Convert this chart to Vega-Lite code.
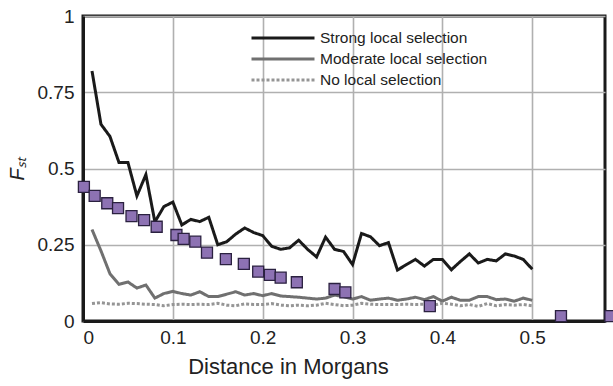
{
  "$schema": "https://vega.github.io/schema/vega-lite/v6.json",
  "width": 522,
  "height": 305,
  "autosize": {"type": "none"},
  "padding": {"left": 83, "top": 16, "right": 8, "bottom": 65},
  "background": "white",
  "config": {
    "view": {"stroke": "#1a1a1a", "strokeWidth": 3},
    "font": "Liberation Sans",
    "axis": {
      "labelFont": "Liberation Sans",
      "titleFont": "Liberation Sans",
      "labelColor": "#222",
      "titleColor": "#222",
      "gridColor": "#b0b0b0",
      "gridWidth": 1.6,
      "domainColor": "#1a1a1a",
      "domainWidth": 3,
      "ticks": false
    }
  },
  "datasets": {
    "lines": [
      {"x": 0.01, "fst": 0.82, "series": "Strong local selection"},
      {"x": 0.02, "fst": 0.645, "series": "Strong local selection"},
      {"x": 0.03, "fst": 0.605, "series": "Strong local selection"},
      {"x": 0.04, "fst": 0.52, "series": "Strong local selection"},
      {"x": 0.05, "fst": 0.52, "series": "Strong local selection"},
      {"x": 0.06, "fst": 0.41, "series": "Strong local selection"},
      {"x": 0.07, "fst": 0.48, "series": "Strong local selection"},
      {"x": 0.08, "fst": 0.325, "series": "Strong local selection"},
      {"x": 0.09, "fst": 0.375, "series": "Strong local selection"},
      {"x": 0.10, "fst": 0.39, "series": "Strong local selection"},
      {"x": 0.11, "fst": 0.315, "series": "Strong local selection"},
      {"x": 0.12, "fst": 0.333, "series": "Strong local selection"},
      {"x": 0.13, "fst": 0.326, "series": "Strong local selection"},
      {"x": 0.14, "fst": 0.34, "series": "Strong local selection"},
      {"x": 0.15, "fst": 0.25, "series": "Strong local selection"},
      {"x": 0.16, "fst": 0.26, "series": "Strong local selection"},
      {"x": 0.17, "fst": 0.285, "series": "Strong local selection"},
      {"x": 0.18, "fst": 0.305, "series": "Strong local selection"},
      {"x": 0.19, "fst": 0.29, "series": "Strong local selection"},
      {"x": 0.20, "fst": 0.28, "series": "Strong local selection"},
      {"x": 0.21, "fst": 0.245, "series": "Strong local selection"},
      {"x": 0.22, "fst": 0.235, "series": "Strong local selection"},
      {"x": 0.23, "fst": 0.24, "series": "Strong local selection"},
      {"x": 0.24, "fst": 0.265, "series": "Strong local selection"},
      {"x": 0.25, "fst": 0.235, "series": "Strong local selection"},
      {"x": 0.26, "fst": 0.21, "series": "Strong local selection"},
      {"x": 0.27, "fst": 0.275, "series": "Strong local selection"},
      {"x": 0.28, "fst": 0.235, "series": "Strong local selection"},
      {"x": 0.29, "fst": 0.228, "series": "Strong local selection"},
      {"x": 0.30, "fst": 0.185, "series": "Strong local selection"},
      {"x": 0.31, "fst": 0.287, "series": "Strong local selection"},
      {"x": 0.32, "fst": 0.276, "series": "Strong local selection"},
      {"x": 0.33, "fst": 0.247, "series": "Strong local selection"},
      {"x": 0.34, "fst": 0.257, "series": "Strong local selection"},
      {"x": 0.35, "fst": 0.167, "series": "Strong local selection"},
      {"x": 0.36, "fst": 0.185, "series": "Strong local selection"},
      {"x": 0.37, "fst": 0.202, "series": "Strong local selection"},
      {"x": 0.38, "fst": 0.18, "series": "Strong local selection"},
      {"x": 0.39, "fst": 0.202, "series": "Strong local selection"},
      {"x": 0.40, "fst": 0.202, "series": "Strong local selection"},
      {"x": 0.41, "fst": 0.168, "series": "Strong local selection"},
      {"x": 0.42, "fst": 0.195, "series": "Strong local selection"},
      {"x": 0.43, "fst": 0.22, "series": "Strong local selection"},
      {"x": 0.44, "fst": 0.19, "series": "Strong local selection"},
      {"x": 0.45, "fst": 0.202, "series": "Strong local selection"},
      {"x": 0.46, "fst": 0.197, "series": "Strong local selection"},
      {"x": 0.47, "fst": 0.22, "series": "Strong local selection"},
      {"x": 0.48, "fst": 0.213, "series": "Strong local selection"},
      {"x": 0.49, "fst": 0.202, "series": "Strong local selection"},
      {"x": 0.50, "fst": 0.17, "series": "Strong local selection"},
      {"x": 0.01, "fst": 0.30, "series": "Moderate local selection"},
      {"x": 0.02, "fst": 0.23, "series": "Moderate local selection"},
      {"x": 0.03, "fst": 0.155, "series": "Moderate local selection"},
      {"x": 0.04, "fst": 0.12, "series": "Moderate local selection"},
      {"x": 0.05, "fst": 0.128, "series": "Moderate local selection"},
      {"x": 0.06, "fst": 0.108, "series": "Moderate local selection"},
      {"x": 0.07, "fst": 0.118, "series": "Moderate local selection"},
      {"x": 0.08, "fst": 0.075, "series": "Moderate local selection"},
      {"x": 0.09, "fst": 0.09, "series": "Moderate local selection"},
      {"x": 0.10, "fst": 0.097, "series": "Moderate local selection"},
      {"x": 0.11, "fst": 0.09, "series": "Moderate local selection"},
      {"x": 0.12, "fst": 0.085, "series": "Moderate local selection"},
      {"x": 0.13, "fst": 0.096, "series": "Moderate local selection"},
      {"x": 0.14, "fst": 0.08, "series": "Moderate local selection"},
      {"x": 0.15, "fst": 0.08, "series": "Moderate local selection"},
      {"x": 0.16, "fst": 0.088, "series": "Moderate local selection"},
      {"x": 0.17, "fst": 0.096, "series": "Moderate local selection"},
      {"x": 0.18, "fst": 0.085, "series": "Moderate local selection"},
      {"x": 0.19, "fst": 0.09, "series": "Moderate local selection"},
      {"x": 0.20, "fst": 0.083, "series": "Moderate local selection"},
      {"x": 0.21, "fst": 0.09, "series": "Moderate local selection"},
      {"x": 0.22, "fst": 0.082, "series": "Moderate local selection"},
      {"x": 0.23, "fst": 0.08, "series": "Moderate local selection"},
      {"x": 0.24, "fst": 0.078, "series": "Moderate local selection"},
      {"x": 0.25, "fst": 0.075, "series": "Moderate local selection"},
      {"x": 0.26, "fst": 0.072, "series": "Moderate local selection"},
      {"x": 0.27, "fst": 0.075, "series": "Moderate local selection"},
      {"x": 0.28, "fst": 0.085, "series": "Moderate local selection"},
      {"x": 0.29, "fst": 0.08, "series": "Moderate local selection"},
      {"x": 0.30, "fst": 0.072, "series": "Moderate local selection"},
      {"x": 0.31, "fst": 0.08, "series": "Moderate local selection"},
      {"x": 0.32, "fst": 0.068, "series": "Moderate local selection"},
      {"x": 0.33, "fst": 0.072, "series": "Moderate local selection"},
      {"x": 0.34, "fst": 0.075, "series": "Moderate local selection"},
      {"x": 0.35, "fst": 0.068, "series": "Moderate local selection"},
      {"x": 0.36, "fst": 0.072, "series": "Moderate local selection"},
      {"x": 0.37, "fst": 0.078, "series": "Moderate local selection"},
      {"x": 0.38, "fst": 0.07, "series": "Moderate local selection"},
      {"x": 0.39, "fst": 0.08, "series": "Moderate local selection"},
      {"x": 0.40, "fst": 0.065, "series": "Moderate local selection"},
      {"x": 0.41, "fst": 0.078, "series": "Moderate local selection"},
      {"x": 0.42, "fst": 0.068, "series": "Moderate local selection"},
      {"x": 0.43, "fst": 0.068, "series": "Moderate local selection"},
      {"x": 0.44, "fst": 0.08, "series": "Moderate local selection"},
      {"x": 0.45, "fst": 0.08, "series": "Moderate local selection"},
      {"x": 0.46, "fst": 0.07, "series": "Moderate local selection"},
      {"x": 0.47, "fst": 0.072, "series": "Moderate local selection"},
      {"x": 0.48, "fst": 0.065, "series": "Moderate local selection"},
      {"x": 0.49, "fst": 0.075, "series": "Moderate local selection"},
      {"x": 0.50, "fst": 0.068, "series": "Moderate local selection"},
      {"x": 0.01, "fst": 0.057, "series": "No local selection"},
      {"x": 0.02, "fst": 0.06, "series": "No local selection"},
      {"x": 0.03, "fst": 0.056, "series": "No local selection"},
      {"x": 0.04, "fst": 0.055, "series": "No local selection"},
      {"x": 0.05, "fst": 0.058, "series": "No local selection"},
      {"x": 0.06, "fst": 0.057, "series": "No local selection"},
      {"x": 0.07, "fst": 0.055, "series": "No local selection"},
      {"x": 0.08, "fst": 0.054, "series": "No local selection"},
      {"x": 0.09, "fst": 0.05, "series": "No local selection"},
      {"x": 0.10, "fst": 0.054, "series": "No local selection"},
      {"x": 0.11, "fst": 0.055, "series": "No local selection"},
      {"x": 0.12, "fst": 0.054, "series": "No local selection"},
      {"x": 0.13, "fst": 0.055, "series": "No local selection"},
      {"x": 0.14, "fst": 0.054, "series": "No local selection"},
      {"x": 0.15, "fst": 0.058, "series": "No local selection"},
      {"x": 0.16, "fst": 0.052, "series": "No local selection"},
      {"x": 0.17, "fst": 0.05, "series": "No local selection"},
      {"x": 0.18, "fst": 0.056, "series": "No local selection"},
      {"x": 0.19, "fst": 0.054, "series": "No local selection"},
      {"x": 0.20, "fst": 0.054, "series": "No local selection"},
      {"x": 0.21, "fst": 0.057, "series": "No local selection"},
      {"x": 0.22, "fst": 0.052, "series": "No local selection"},
      {"x": 0.23, "fst": 0.05, "series": "No local selection"},
      {"x": 0.24, "fst": 0.052, "series": "No local selection"},
      {"x": 0.25, "fst": 0.05, "series": "No local selection"},
      {"x": 0.26, "fst": 0.052, "series": "No local selection"},
      {"x": 0.27, "fst": 0.058, "series": "No local selection"},
      {"x": 0.28, "fst": 0.054, "series": "No local selection"},
      {"x": 0.29, "fst": 0.05, "series": "No local selection"},
      {"x": 0.30, "fst": 0.052, "series": "No local selection"},
      {"x": 0.31, "fst": 0.058, "series": "No local selection"},
      {"x": 0.32, "fst": 0.055, "series": "No local selection"},
      {"x": 0.33, "fst": 0.054, "series": "No local selection"},
      {"x": 0.34, "fst": 0.054, "series": "No local selection"},
      {"x": 0.35, "fst": 0.054, "series": "No local selection"},
      {"x": 0.36, "fst": 0.055, "series": "No local selection"},
      {"x": 0.37, "fst": 0.054, "series": "No local selection"},
      {"x": 0.38, "fst": 0.055, "series": "No local selection"},
      {"x": 0.39, "fst": 0.052, "series": "No local selection"},
      {"x": 0.40, "fst": 0.058, "series": "No local selection"},
      {"x": 0.41, "fst": 0.055, "series": "No local selection"},
      {"x": 0.42, "fst": 0.05, "series": "No local selection"},
      {"x": 0.43, "fst": 0.054, "series": "No local selection"},
      {"x": 0.44, "fst": 0.048, "series": "No local selection"},
      {"x": 0.45, "fst": 0.057, "series": "No local selection"},
      {"x": 0.46, "fst": 0.05, "series": "No local selection"},
      {"x": 0.47, "fst": 0.054, "series": "No local selection"},
      {"x": 0.48, "fst": 0.052, "series": "No local selection"},
      {"x": 0.49, "fst": 0.054, "series": "No local selection"},
      {"x": 0.50, "fst": 0.05, "series": "No local selection"}
    ],
    "squares": [
      {"x": 0.001, "fst": 0.44},
      {"x": 0.013, "fst": 0.41},
      {"x": 0.027, "fst": 0.386},
      {"x": 0.039, "fst": 0.37},
      {"x": 0.054, "fst": 0.344},
      {"x": 0.068, "fst": 0.331},
      {"x": 0.082, "fst": 0.309},
      {"x": 0.104, "fst": 0.282},
      {"x": 0.112, "fst": 0.269},
      {"x": 0.125, "fst": 0.26},
      {"x": 0.138, "fst": 0.224},
      {"x": 0.159, "fst": 0.203},
      {"x": 0.179, "fst": 0.187},
      {"x": 0.195, "fst": 0.162},
      {"x": 0.208, "fst": 0.151},
      {"x": 0.22, "fst": 0.142},
      {"x": 0.238, "fst": 0.127},
      {"x": 0.28, "fst": 0.105},
      {"x": 0.292, "fst": 0.094},
      {"x": 0.386, "fst": 0.049},
      {"x": 0.532, "fst": 0.016},
      {"x": 0.587, "fst": 0.016}
    ]
  },
  "encoding": {
    "x": {
      "field": "x",
      "type": "quantitative",
      "scale": {"domain": [0, 0.581], "nice": false, "zero": true},
      "axis": {
        "values": [0, 0.1, 0.2, 0.3, 0.4, 0.5],
        "labelExpr": "'' + datum.value",
        "title": "Distance in Morgans",
        "labelFontSize": 19,
        "labelFontWeight": "normal",
        "labelPadding": 7,
        "titleFontSize": 22,
        "titleFontWeight": "normal",
        "titlePadding": 9,
        "titleX": 205,
        "titleAnchor": "middle"
      }
    },
    "y": {
      "field": "fst",
      "type": "quantitative",
      "scale": {"domain": [0, 1], "nice": false},
      "axis": {
        "values": [0, 0.25, 0.5, 0.75, 1],
        "labelExpr": "'' + datum.value",
        "title": "Fₛₜ",
        "titleFontStyle": "italic",
        "labelFontSize": 19,
        "labelPadding": 9,
        "titleFontSize": 20,
        "titleFontWeight": "normal",
        "titlePadding": 10
      }
    }
  },
  "layer": [
    {
      "data": {"name": "lines"},
      "mark": {"type": "line", "strokeWidth": 3},
      "encoding": {
        "color": {
          "field": "series",
          "type": "nominal",
          "scale": {
            "domain": ["Strong local selection", "Moderate local selection", "No local selection"],
            "range": ["#1a1a1a", "#707070", "#959595"]
          },
          "legend": {
            "title": null,
            "orient": "none",
            "legendX": 167,
            "legendY": 10,
            "labelFont": "Liberation Sans",
            "labelFontSize": 15.5,
            "labelColor": "#222",
            "labelLimit": 400,
            "symbolType": "M-1,0H5",
            "symbolSize": 441,
            "symbolStrokeWidth": 3,
            "labelOffset": 46,
            "rowPadding": -2
          }
        },
        "strokeDash": {
          "field": "series",
          "type": "nominal",
          "scale": {
            "domain": ["Strong local selection", "Moderate local selection", "No local selection"],
            "range": [[1, 0], [1, 0], [3, 2]]
          },
          "legend": {
            "title": null,
            "orient": "none",
            "legendX": 167,
            "legendY": 10
          }
        }
      }
    },
    {
      "data": {"name": "squares"},
      "mark": {"type": "point", "shape": "square", "filled": true, "size": 121, "color": "#8d72b3", "stroke": "#2b2140", "strokeWidth": 1.3, "opacity": 1}
    }
  ]
}
